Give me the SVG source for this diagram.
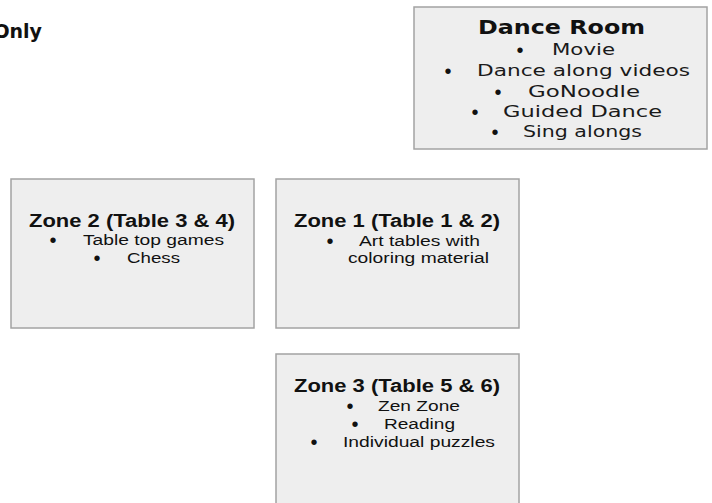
<svg xmlns="http://www.w3.org/2000/svg" width="712" height="503" viewBox="0 0 712 503">
<style>
.box{fill:#eeeeee;stroke:#a3a3a3;stroke-width:1.5}
.g{font-family:"DejaVu Sans","Noto Sans",sans-serif;fill:#1a1a1a}
.gt{font-family:"DejaVu Sans","Noto Sans",sans-serif;font-weight:bold;font-size:19px;fill:#111}
.gb{font-size:15px}
.a{font-family:"Liberation Sans",Arial,sans-serif;fill:#111}
.at{font-family:"Liberation Sans",Arial,sans-serif;font-weight:bold;font-size:18px;fill:#111}
.ab{font-size:15.5px}
.bul{font-family:"Liberation Sans",Arial,sans-serif;font-size:20px;fill:#111;text-anchor:middle}
</style>
<rect width="712" height="503" fill="#ffffff"/>
<text class="gt" x="42" y="38" text-anchor="end" font-size="18">Only</text>

<g id="dance-room">
<rect class="box" x="414" y="7" width="293" height="142"/>
<text class="gt" x="478" y="34" textLength="167" lengthAdjust="spacingAndGlyphs">Dance Room</text>
<text class="bul" x="520" y="57">•</text>
<text class="g gb" x="552" y="55" textLength="63" lengthAdjust="spacingAndGlyphs">Movie</text>
<text class="bul" x="448" y="78">•</text>
<text class="g gb" x="477" y="76" textLength="213" lengthAdjust="spacingAndGlyphs">Dance along videos</text>
<text class="bul" x="498" y="99">•</text>
<text class="g gb" x="528" y="97" textLength="112" lengthAdjust="spacingAndGlyphs">GoNoodle</text>
<text class="bul" x="475" y="119">•</text>
<text class="g gb" x="503" y="117" textLength="159" lengthAdjust="spacingAndGlyphs">Guided Dance</text>
<text class="bul" x="495" y="139">•</text>
<text class="g gb" x="523" y="137" textLength="119" lengthAdjust="spacingAndGlyphs">Sing alongs</text>
</g>

<g id="zone-2">
<rect class="box" x="11" y="179" width="243" height="149"/>
<text class="at" x="29" y="227" textLength="206" lengthAdjust="spacingAndGlyphs">Zone 2 (Table 3 &amp; 4)</text>
<text class="bul" x="53" y="247">•</text>
<text class="a ab" x="83" y="245" textLength="141" lengthAdjust="spacingAndGlyphs">Table top games</text>
<text class="bul" x="97" y="265">•</text>
<text class="a ab" x="127" y="263" textLength="53" lengthAdjust="spacingAndGlyphs">Chess</text>
</g>

<g id="zone-1">
<rect class="box" x="276" y="179" width="243" height="149"/>
<text class="at" x="294" y="227" textLength="206" lengthAdjust="spacingAndGlyphs">Zone 1 (Table 1 &amp; 2)</text>
<text class="bul" x="330" y="248">•</text>
<text class="a ab" x="359" y="246" textLength="121" lengthAdjust="spacingAndGlyphs">Art tables with</text>
<text class="a ab" x="348" y="263" textLength="141" lengthAdjust="spacingAndGlyphs">coloring material</text>
</g>

<g id="zone-3">
<rect class="box" x="276" y="354" width="243" height="160"/>
<text class="at" x="294" y="392" textLength="206" lengthAdjust="spacingAndGlyphs">Zone 3 (Table 5 &amp; 6)</text>
<text class="bul" x="350" y="413">•</text>
<text class="a ab" x="378" y="411" textLength="82" lengthAdjust="spacingAndGlyphs">Zen Zone</text>
<text class="bul" x="355" y="431">•</text>
<text class="a ab" x="384" y="429" textLength="71" lengthAdjust="spacingAndGlyphs">Reading</text>
<text class="bul" x="314" y="449">•</text>
<text class="a ab" x="343" y="447" textLength="152" lengthAdjust="spacingAndGlyphs">Individual puzzles</text>
</g>

<g id="connectors"></g>
</svg>
